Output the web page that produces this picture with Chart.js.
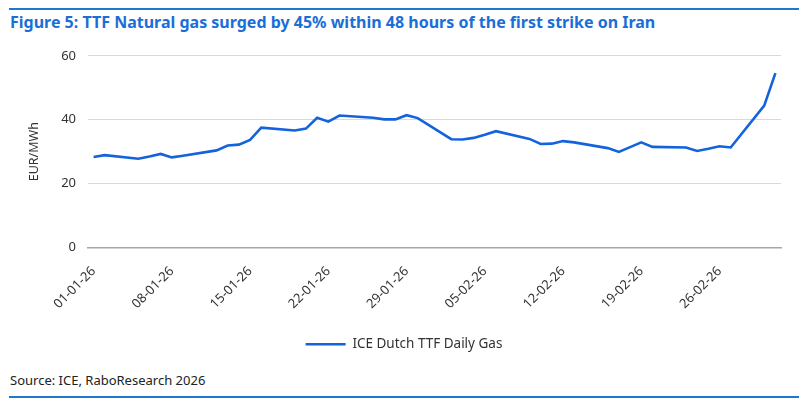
<!DOCTYPE html>
<html>
<head>
<meta charset="utf-8">
<script src="https://cdn.jsdelivr.net/npm/chart.js"></script>
<style>
  body { margin: 0; width: 806px; height: 408px; background: #fff; font-family: "Noto Sans", sans-serif; position: relative; overflow: hidden; }
  .rule { position: absolute; left: 9px; width: 790px; height: 2px; background: #1f78c8; }
  #title { position: absolute; left: 10px; top: 11px; font-size: 16px; font-weight: bold; color: #1a6ed8; white-space: nowrap; }
  #source { position: absolute; left: 10px; top: 371px; font-size: 13px; color: #222; }
  #wrap { position: absolute; left: 0; top: 36px; width: 806px; height: 325px; }
</style>
</head>
<body>
<div class="rule" style="top:8px"></div>
<div id="title">Figure 5: TTF Natural gas surged by 45% within 48 hours of the first strike on Iran</div>
<div id="wrap"><canvas id="myChart"></canvas></div>
<div id="source">Source: ICE, RaboResearch 2026</div>
<div class="rule" style="top:396px"></div>
<script>
// trading days (DD-MM-YY) and TTF front-month price, EUR/MWh
const dates = [
    '01-01-26', '02-01-26', '05-01-26', '06-01-26', '07-01-26', '08-01-26', '09-01-26',
    '12-01-26', '13-01-26', '14-01-26', '15-01-26', '16-01-26',
    '19-01-26', '20-01-26', '21-01-26', '22-01-26', '23-01-26',
    '26-01-26', '27-01-26', '28-01-26', '29-01-26', '30-01-26',
    '02-02-26', '03-02-26', '04-02-26', '05-02-26', '06-02-26',
    '09-02-26', '10-02-26', '11-02-26', '12-02-26', '13-02-26',
    '16-02-26', '17-02-26', '18-02-26', '19-02-26', '20-02-26',
    '23-02-26', '24-02-26', '25-02-26', '26-02-26', '27-02-26',
    '02-03-26', '03-03-26'
];
const ttf = [
    28.3, 28.9, 27.8, 28.5, 29.3, 28.2, 28.7,
    30.4, 31.9, 32.2, 33.7, 37.5,
    36.6, 37.2, 40.6, 39.4, 41.3,
    40.6, 40.1, 40.1, 41.4, 40.5,
    33.9, 33.8, 34.3, 35.3, 36.4,
    34.0, 32.4, 32.5, 33.3, 32.9,
    31.1, 29.9, 31.4, 32.9, 31.5,
    31.3, 30.2, 30.9, 31.7, 31.3,
    44.4, 54.6
];
const tickLabels = ['01-01-26', '08-01-26', '15-01-26', '22-01-26', '29-01-26',
    '05-02-26', '12-02-26', '19-02-26', '26-02-26'];
const yTicks = [0, 20, 40, 60];
const lastDay = '03-03-26';

function dayOf(s) {
    const p = s.split('-');
    return (Date.UTC(2000 + +p[2], +p[1] - 1, +p[0]) - Date.UTC(2026, 0, 1)) / 86400000;
}

const points = dates.map((d, i) => ({ x: dayOf(d), y: ttf[i] }));
const labelByDay = {};
tickLabels.forEach(t => { labelByDay[dayOf(t)] = t; });

const ctx = document.getElementById('myChart');

new Chart(ctx, {
    type: 'line',
    data: {
        datasets: [{
            label: 'ICE Dutch TTF Daily Gas',
            data: points,
            borderColor: '#1462dc',
            backgroundColor: '#1462dc',
            borderWidth: 2.6,
            pointRadius: 0,
            tension: 0,
            fill: false
        }]
    },
    options: {
        responsive: true,
        maintainAspectRatio: false,
        animation: false,
        layout: { padding: { left: 27, right: 25, top: 8, bottom: 0 } },
        scales: {
            x: {
                type: 'linear',
                min: -0.5,
                max: dayOf(lastDay) + 0.5,
                afterBuildTicks: (s) => { s.ticks = tickLabels.map(t => ({ value: dayOf(t) })); },
                afterFit: (s) => { s.height = 75; },
                grid: { display: false },
                border: { display: true, color: '#a6a6a6', width: 1.5 },
                ticks: {
                    autoSkip: false,
                    minRotation: 45,
                    maxRotation: 45,
                    padding: 8,
                    color: '#333',
                    font: { family: 'Noto Sans', size: 13 },
                    callback: (v) => labelByDay[v] || ''
                }
            },
            y: {
                min: 0,
                max: 60,
                afterBuildTicks: (s) => { s.ticks = yTicks.map(v => ({ value: v })); },
                afterFit: (s) => { s.width = 61; },
                grid: { color: '#d9d9d9', drawTicks: false },
                border: { display: false },
                ticks: {
                    padding: 12,
                    color: '#333',
                    font: { family: 'Noto Sans', size: 13 }
                },
                title: {
                    display: true,
                    text: 'EUR/MWh',
                    color: '#333',
                    font: { family: 'Noto Sans', size: 12.5 },
                    padding: { top: 0, bottom: 4 }
                }
            }
        },
        plugins: {
            legend: {
                position: 'bottom',
                labels: {
                    usePointStyle: true,
                    pointStyle: 'line',
                    pointStyleWidth: 40,
                    color: '#333',
                    font: { family: 'Noto Sans', size: 13.5 },
                    padding: 15
                }
            },
            tooltip: { enabled: false }
        }
    }
});
</script>
</body>
</html>
